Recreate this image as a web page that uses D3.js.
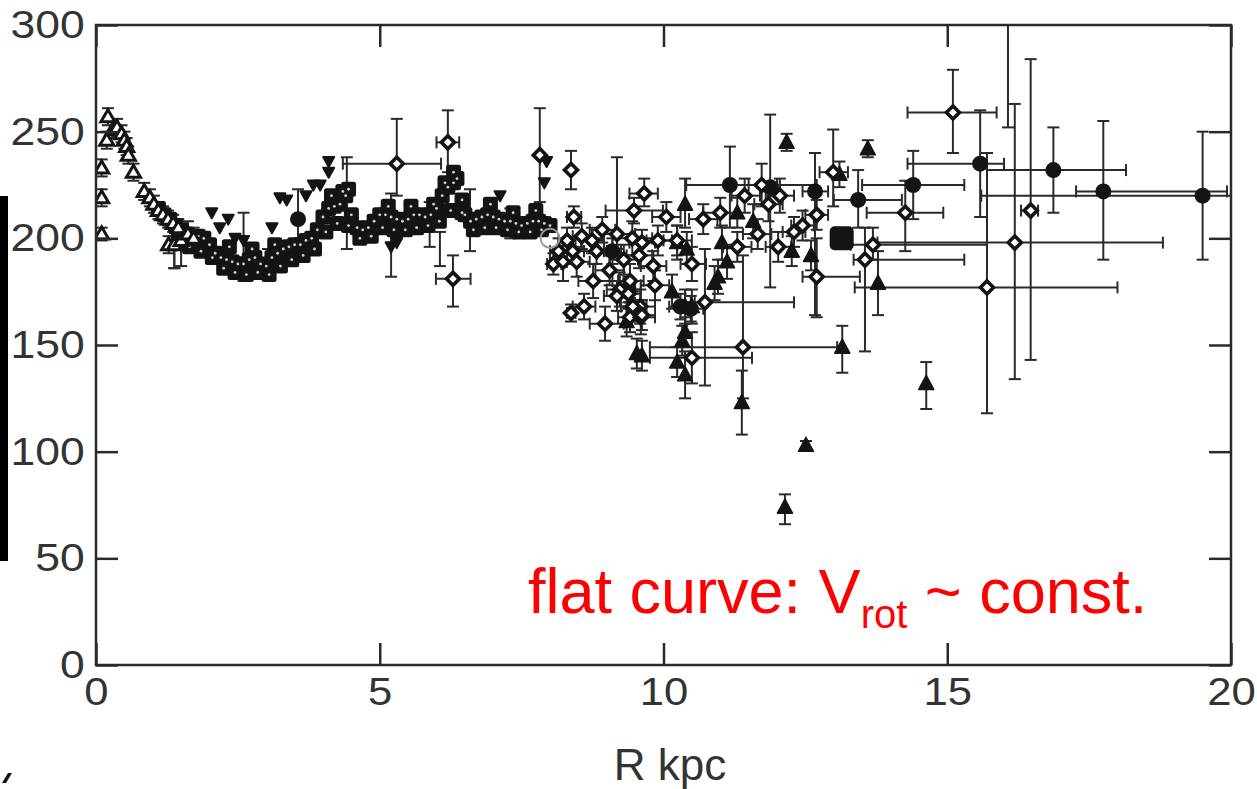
<!DOCTYPE html>
<html>
<head>
<meta charset="utf-8">
<title>Rotation curve</title>
<script src="https://d3js.org/d3.v7.min.js"></script>
<style>
body{margin:0;background:#fff;}
svg{display:block;font-family:"Liberation Sans",Arial,sans-serif;}
</style>
</head>
<body>
<svg width="1257" height="789"></svg>
<script>
// ticks
var xTicks = [0, 5, 10, 15, 20];
var yTicks = [0, 50, 100, 150, 200, 250, 300];

// open triangles near the centre: [R, V, Vlo, Vhi]
var innerTri = [
  [0.1,233,229,237],[0.1,219,215,223],[0.1,202,199,205],[0.21,257,253,261],[0.19,246,242,250],
  [0.3,251,247,255],[0.37,252,248,256],[0.45,249,245,253],[0.5,246,242,250],[0.54,243,239,247],
  [0.57,239,235,243],[0.66,231,227,235],[0.85,222,218,226],[0.95,219,215,223],[1.02,216,212,220],
  [1.1,213,209,217],[1.18,211,207,215],[1.27,209,205,213],[1.36,207,203,211],[1.45,205,201,209],
  [1.28,197,193,201],[1.38,197,186,207],[1.5,199,187,204],[1.62,202,196,208],[1.72,200,195,205]
];

// filled squares of the inner band: [R, V]
var bandSq = [
  [1.1,214],[1.2,211],[1.3,209],[1.4,206],[1.5,204],[1.6,202],[1.7,200],[1.8,201],[1.9,200],[2.0,197],
  [2.1,193],[2.2,191],[2.3,190],[2.4,189],[2.5,188],[2.6,188],[2.7,190],[2.8,191],[2.9,188],[3.0,187],
  [3.1,191],[3.2,193],[3.3,195],[3.4,196],[3.5,197],[3.6,197],[3.7,199],[3.8,200],[3.9,204],[4.0,210],
  [4.1,214],[4.2,215],[4.3,216],[4.4,220],[4.45,223],[4.5,211],[4.6,205],[4.7,204],[4.8,205],[4.9,208],
  [5.0,211],[5.1,211],[5.2,210],[5.3,209],[5.4,208],[5.5,209],[5.6,211],[5.7,211],[5.8,210],[5.9,211],
  [6.0,214],[6.1,220],[6.2,224],[6.3,226],[6.36,228],[6.45,218],[6.5,211],[6.6,208],[6.7,209],[6.8,210],
  [6.9,211],[7.0,210],[7.1,209],[7.2,208],[7.3,208],[7.4,207],[7.5,206],[7.6,207],[7.7,208],[7.8,208],
  [7.9,207],[8.0,206],
  [1.45,199],[1.65,196],[1.85,194],[2.05,191],[2.25,186],[2.45,184],[2.65,183],[2.85,184],[3.05,183],
  [3.25,187],[3.45,190],[3.65,192],[3.85,195],[4.05,203],[4.25,207],[4.45,206],[4.65,200],[4.85,201],
  [5.05,205],[5.25,204],[5.45,204],[5.65,205],[5.85,206],[6.05,208],[6.25,213],[6.45,212],[6.65,204],
  [6.85,205],[7.05,205],[7.25,204],[7.45,203],[7.65,203],[7.85,204],
  [4.15,220],[4.35,222],[5.15,215],[5.55,215],[5.95,216],[6.15,226],[6.3,231],[6.95,216],[7.35,212],
  [7.75,213],[3.15,197],[2.75,195],[2.35,196]
];

// error bars drawn on the band: [R, Vlo, Vhi]
var bandErr = [
  [1.38,186,207],[2.6,180,212],[3.03,183,195],[4.42,195,238],[5.2,182,221],[5.88,196,217],
  [6.06,187,203],[6.59,194,223],[7.3,200,214]
];

// small inverted triangles: [R, V]
var invTri = [
  [2.04,212],[2.18,205],[2.33,209],[2.45,200],[2.6,199],[3.1,205],[3.24,219],[3.36,218],[3.7,220],
  [3.83,225],[3.95,225],[4.1,236],[4.1,231],[5.2,196],[5.3,198],[7.12,220],[7.9,226],[7.94,236]
];

// filled circles: [R, V, Rlo, Rhi, Vlo, Vhi]
var dots = [
  [3.56,209,3.56,3.56,198,223],[9.1,194,8.95,9.25,188,200],[9.38,176,9.2,9.6,170,182],
  [10.3,168,10.1,10.5,162,174],[10.48,167,10.3,10.7,161,173],[11.17,225,10.4,12.7,205,243],
  [11.88,224,11.7,12.05,177,258],[12.67,222,12.45,12.9,164,240],[13.43,218,13.0,14.2,205,232],
  [14.4,225,13.5,15.3,209,241],[15.58,235,14.3,16.0,210,260],[16.87,232,15.7,18.15,212,252],
  [17.75,222,17.27,19.93,190,255],[19.5,220,15.6,20.5,190,250]
];

// open diamonds: [R, V, Rlo, Rhi, Vlo, Vhi]
var diamonds = [
  [5.3,235,4.35,6.08,220,256],[6.2,245,6.0,6.4,231,260],[6.29,181,5.99,6.6,168,192],
  [7.82,239,7.82,7.82,217,261],[8.37,232,8.37,8.37,223,241],[8.42,210,8.3,8.55,205,215],
  [8.06,188,7.95,8.2,183,193],[8.23,189,8.0,8.5,180,198],[8.47,189,8.3,8.7,182,196],
  [8.15,194,8.0,8.3,188,200],[8.4,194,8.2,8.6,188,200],[8.3,199,8.15,8.45,193,205],
  [8.56,201,8.4,8.75,195,207],[8.74,199,8.55,8.95,193,205],[8.82,194,8.6,9.0,188,200],
  [8.76,180,8.5,9.1,172,188],[8.6,168,8.4,8.8,162,174],[8.37,165,8.3,8.45,161,169],
  [8.97,160,8.7,9.3,152,168],[9.18,202,8.9,9.5,195,238],[9.45,200,9.1,9.8,192,208],
  [9.48,213,8.98,9.99,207,219],[9.66,221,9.4,9.9,215,228],[9.23,176,9.0,9.5,168,184],
  [9.41,180,9.2,9.65,172,188],[9.59,168,9.35,9.85,160,176],[9.41,163,9.2,9.6,156,170],
  [9.6,163,9.4,9.85,155,171],[9.82,187,9.6,10.05,180,194],[9.57,192,9.35,9.8,186,198],
  [9.62,198,9.4,9.85,192,204],[10.24,199,10.0,10.5,192,206],[10.5,188,10.3,10.75,180,196],
  [10.5,144,9.76,11.56,132,156],[10.73,170,10.55,12.3,131,195],[11.4,149,9.76,13.06,125,192],
  [11.43,220,11.2,11.7,212,228],[11.73,225,11.5,12.0,215,235],[11.85,216,11.6,12.1,208,224],
  [12.05,220,11.8,12.3,212,228],[12.7,211,12.5,12.9,204,218],[12.7,182,12.45,13.46,163,200],
  [11.66,202,11.4,11.9,195,209],[12.02,196,11.8,12.25,189,203],[12.3,203,12.1,12.5,196,210],
  [12.45,206,12.25,12.65,199,213],[11.3,196,11.05,11.55,189,203],[11.0,212,10.7,11.3,205,219],
  [10.7,209,10.45,10.95,202,216],[12.99,231,12.75,13.25,215,251],[13.55,190,13.35,15.3,147,205],
  [13.69,197,13.3,15.7,190,205],[14.26,212,13.58,14.93,194,227],[15.1,259,14.3,15.87,240,279],
  [15.7,177,13.37,18.0,118,240],[16.47,213,16.3,16.6,143,284],[16.19,198,13.77,18.8,134,263],
  [16.07,320,16.07,16.07,252,390],
  [9.38,174,9.15,9.6,167,181],[9.18,173,8.95,9.4,166,180],[9.46,168,9.25,9.7,161,175],
  [9.62,164,9.4,9.85,157,171],[9.05,185,8.8,9.3,178,192],[8.92,204,8.7,9.15,198,210],
  [9.3,190,9.05,9.55,183,197],[9.85,178,9.6,10.1,171,185],[10.05,210,9.8,10.3,203,217],
  [9.9,199,9.7,10.15,192,206]
];

// filled triangles: [R, V, Vlo, Vhi]
var triangles = [
  [12.17,245,241,249],[10.38,216,205,228],[10.24,198,190,206],[10.41,195,188,203],[11.03,198,190,206],
  [11.12,189,181,197],[11.3,212,205,219],[11.58,208,200,216],[10.96,182,174,190],[10.9,179,171,187],
  [12.26,194,187,201],[12.6,192,185,199],[10.15,175,167,183],[10.38,168,160,176],[10.5,168,160,176],
  [10.38,156,149,163],[10.33,152,145,159],[10.24,142,135,149],[10.38,136,125,147],[9.53,146,139,153],
  [9.62,145,138,152],[9.35,161,154,168],[13.15,149,137,159],[14.63,132,120,142],[12.51,103,101,105],
  [12.14,74,66,80],[11.38,123,108,138],[13.78,179,164,194],[13.6,242,238,246],[13.1,230,224,236]
];

var sun = [8.0, 200];
var bigSq = [13.14, 200];

var svg = d3.select("svg");
var pL = 96, pR = 1231, pT = 25, pB = 665;

var x = d3.scaleLinear().domain([0, 20]).range([pL, pR]);
var y = d3.scaleLinear().domain([0, 300]).range([pB, pT]);

// stray bits of the slide at the left edge
svg.append("rect").attr("x", 0).attr("y", 196).attr("width", 8).attr("height", 365).attr("fill", "#000");
svg.append("path").attr("d", "M2,783 L6,783 L12,773 L8,773 Z").attr("fill", "#111");

svg.append("clipPath").attr("id", "plot")
  .append("rect").attr("x", pL).attr("y", pT).attr("width", pR - pL).attr("height", pB - pT);

var g = svg.append("g").attr("clip-path", "url(#plot)");
var ink = "#2a2a2a";

function errBars(data, vi, xi) {
  data.forEach(function(d) {
    var cx = x(d[0]), cy = y(d[1]);
    var lo = y(d[vi]), hi = y(d[vi + 1]);
    if (lo !== hi) {
      g.append("line").attr("x1", cx).attr("x2", cx).attr("y1", lo).attr("y2", hi);
      g.append("line").attr("x1", cx - 6).attr("x2", cx + 6).attr("y1", lo).attr("y2", lo);
      g.append("line").attr("x1", cx - 6).attr("x2", cx + 6).attr("y1", hi).attr("y2", hi);
    }
    if (xi != null && d[xi] !== d[xi + 1]) {
      var a = x(d[xi]), b = x(d[xi + 1]);
      g.append("line").attr("x1", a).attr("x2", b).attr("y1", cy).attr("y2", cy);
      g.append("line").attr("x1", a).attr("x2", a).attr("y1", cy - 6).attr("y2", cy + 6);
      g.append("line").attr("x1", b).attr("x2", b).attr("y1", cy - 6).attr("y2", cy + 6);
    }
  });
}

errBars(diamonds, 4, 2);
errBars(dots, 4, 2);
errBars(triangles, 2, null);
errBars(innerTri, 2, null);
bandErr.forEach(function(d) {
  var cx = x(d[0]);
  g.append("line").attr("x1", cx).attr("x2", cx).attr("y1", y(d[1])).attr("y2", y(d[2]));
  g.append("line").attr("x1", cx - 6).attr("x2", cx + 6).attr("y1", y(d[1])).attr("y2", y(d[1]));
  g.append("line").attr("x1", cx - 6).attr("x2", cx + 6).attr("y1", y(d[2])).attr("y2", y(d[2]));
});
g.selectAll("line").attr("stroke", ink).attr("stroke-width", 2);

// band squares
g.selectAll(".sq").data(bandSq).enter().append("rect")
  .attr("x", function(d) { return x(d[0]) - 7.5; })
  .attr("y", function(d) { return y(d[1]) - 7.5; })
  .attr("width", 15).attr("height", 15).attr("rx", 2.5)
  .attr("fill", "#141414");
g.selectAll(".sqdot").data(bandSq).enter().append("circle")
  .attr("cx", function(d) { return x(d[0]); })
  .attr("cy", function(d) { return y(d[1]); })
  .attr("r", 1.4).attr("fill", "#d0d0d0");

// inner open triangles
g.selectAll(".itri").data(innerTri).enter().append("path")
  .attr("transform", function(d) { return "translate(" + x(d[0]) + "," + y(d[1]) + ")"; })
  .attr("d", "M0,-7 L7,5 L-7,5 Z")
  .attr("fill", "#fff").attr("stroke", "#141414").attr("stroke-width", 3);

// inverted triangles
g.selectAll(".inv").data(invTri).enter().append("path")
  .attr("transform", function(d) { return "translate(" + x(d[0]) + "," + y(d[1]) + ")"; })
  .attr("d", "M-5.5,-4.5 L5.5,-4.5 L0,5.5 Z")
  .attr("fill", "#141414").attr("stroke", "#141414").attr("stroke-width", 2).attr("stroke-linejoin", "round");

// filled triangles
g.selectAll(".tri").data(triangles).enter().append("path")
  .attr("transform", function(d) { return "translate(" + x(d[0]) + "," + y(d[1]) + ")"; })
  .attr("d", "M0,-8 L7.5,6 L-7.5,6 Z")
  .attr("fill", "#141414").attr("stroke", "#141414").attr("stroke-width", 1.5).attr("stroke-linejoin", "round");

// filled circles
g.selectAll(".dot").data(dots).enter().append("circle")
  .attr("cx", function(d) { return x(d[0]); })
  .attr("cy", function(d) { return y(d[1]); })
  .attr("r", 8).attr("fill", "#141414");

// open diamonds
g.selectAll(".dia").data(diamonds).enter().append("path")
  .attr("transform", function(d) { return "translate(" + x(d[0]) + "," + y(d[1]) + ")"; })
  .attr("d", "M0,-6.5 L6.5,0 L0,6.5 L-6.5,0 Z")
  .attr("fill", "#fff").attr("stroke", "#141414").attr("stroke-width", 3.6);

// sun and the large square
g.append("circle").attr("cx", x(sun[0])).attr("cy", y(sun[1])).attr("r", 9.5)
  .attr("fill", "none").attr("stroke", "#9a9a9a").attr("stroke-width", 2);
g.append("rect").attr("x", x(bigSq[0]) - 12).attr("y", y(bigSq[1]) - 12)
  .attr("width", 24).attr("height", 24).attr("rx", 5).attr("fill", "#141414");

// axes
function styleAxis(sel) {
  sel.select(".domain").remove();
  sel.selectAll(".tick line").attr("stroke", ink).attr("stroke-width", 2.5);
  sel.selectAll("text").attr("fill", "#333").attr("font-size", 39)
    .attr("font-family", "Liberation Sans, Arial, sans-serif");
}

var yAxis = svg.append("g").attr("transform", "translate(" + pL + ",0)")
  .call(d3.axisLeft(y).tickValues(yTicks).tickSizeInner(-22).tickSizeOuter(0).tickPadding(10));
styleAxis(yAxis);
yAxis.selectAll("text").attr("transform", "scale(1.14,1)");

var xAxis = svg.append("g").attr("transform", "translate(0," + pB + ")")
  .call(d3.axisBottom(x).tickValues(xTicks).tickSizeInner(-22).tickSizeOuter(0).tickPadding(12));
styleAxis(xAxis);
xAxis.selectAll("text").attr("transform", "scale(1.12,1)");

var topAxis = svg.append("g").attr("transform", "translate(0," + pT + ")")
  .call(d3.axisTop(x).tickValues(xTicks).tickSizeInner(-22).tickSizeOuter(0).tickFormat(""));
styleAxis(topAxis);

var rightAxis = svg.append("g").attr("transform", "translate(" + pR + ",0)")
  .call(d3.axisRight(y).tickValues(yTicks).tickSizeInner(-22).tickSizeOuter(0).tickFormat(""));
styleAxis(rightAxis);

// frame
svg.append("rect").attr("x", pL).attr("y", pT).attr("width", pR - pL).attr("height", pB - pT)
  .attr("fill", "none").attr("stroke", ink).attr("stroke-width", 2.5);

svg.append("text").attr("x", 670).attr("y", 780).attr("text-anchor", "middle")
  .attr("font-size", 44).attr("fill", "#333").text("R kpc");

var note = svg.append("text").attr("x", 528).attr("y", 613)
  .attr("font-size", 63).attr("fill", "#ff0000");
note.append("tspan").text("flat curve: V");
note.append("tspan").attr("font-size", 40).attr("dy", 15).text("rot");
note.append("tspan").attr("dy", -15).text(" ~ const.");
</script>
</body>
</html>
